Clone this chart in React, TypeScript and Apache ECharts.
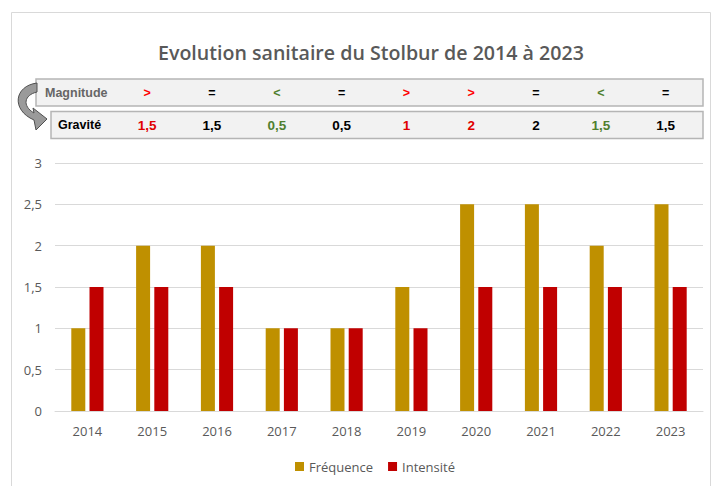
import React, { useEffect, useRef } from "react";
import * as echarts from "echarts";

const years = ["2014", "2015", "2016", "2017", "2018", "2019", "2020", "2021", "2022", "2023"];
const frequence = [1, 2, 2, 1, 1, 1.5, 2.5, 2.5, 2, 2.5];
const intensite = [1.5, 1.5, 1.5, 1, 1, 1, 1.5, 1.5, 1.5, 1.5];
const magnitudeSymbols = [">", "=", "<", "=", ">", ">", "=", "<", "="];
const graviteValues = ["1,5", "1,5", "0,5", "0,5", "1", "2", "2", "1,5", "1,5"];
const trends = ["up", "same", "down", "same", "up", "up", "same", "down", "same"];
const tableYears = years.slice(1);

const trendColor: Record<string, string> = { up: "#ff0000", same: "#000000", down: "#4f7f2f" };

const ARROW_D =
  "M 37 83 C 14 86, 11 110, 34 120 L 36 130 L 47 119 L 33 108 L 34 113 C 22 106, 24 95, 37 92 Z";
try {
  echarts.graphic.registerShape("curvedArrow", echarts.graphic.extendPath(ARROW_D, {}) as any);
} catch (e) {}

const axisFont = "'Open Sans', sans-serif";
const tableFont = "'Liberation Sans', Arial, sans-serif";
const tableNumFont = "'Liberation Sans Narrow', 'Liberation Sans', Arial, sans-serif";

export default function App() {
  const ref = useRef<HTMLDivElement>(null);
  useEffect(() => {
    if (!ref.current) return;
    const chart = echarts.init(ref.current, undefined, { renderer: "svg" });
    chart.setOption({
      animation: false,
      backgroundColor: "#ffffff",
      title: {
        text: "Evolution sanitaire du Stolbur de 2014 à 2023",
        left: 153,
        top: 37,
        textStyle: { fontFamily: axisFont, fontSize: 19.6, fontWeight: 600, color: "#595959" },
      },
      legend: {
        bottom: 8,
        left: 290,
        itemWidth: 9,
        itemHeight: 9,
        itemGap: 15,
        icon: "rect",
        textStyle: { fontFamily: axisFont, fontSize: 13, color: "#595959" },
        data: ["Fréquence", "Intensité"],
      },
      grid: { left: 55, right: 17, top: 163, bottom: 75 },
      xAxis: {
        type: "category",
        data: years,
        axisLine: { lineStyle: { color: "#d9d9d9" } },
        axisTick: { show: false },
        axisLabel: { fontFamily: axisFont, fontSize: 13, color: "#595959", margin: 13 },
      },
      yAxis: {
        type: "value",
        min: 0,
        max: 3,
        interval: 0.5,
        axisLine: { show: false },
        axisTick: { show: false },
        splitLine: { lineStyle: { color: "#d9d9d9" } },
        axisLabel: {
          fontFamily: axisFont,
          fontSize: 13,
          color: "#595959",
          margin: 13,
          formatter: (v: number) => String(v).replace(".", ","),
        },
      },
      series: [
        {
          name: "Fréquence",
          type: "bar",
          data: frequence,
          barWidth: 14,
          barGap: "30%",
          itemStyle: { color: "#bf9000" },
        },
        {
          name: "Intensité",
          type: "bar",
          data: intensite,
          barWidth: 14,
          itemStyle: { color: "#c00000" },
        },
      ],
    });

    const xs = tableYears.map((y) => (chart.convertToPixel({ xAxisIndex: 0 }, y) as number) - 5);
    const magY = 92.5;
    const gravY = 125;
    const graphic: any[] = [
      {
        type: "rect",
        shape: { x: 11.5, y: 12.5, width: 699, height: 520 },
        style: { fill: "none", stroke: "#d9d9d9", lineWidth: 1 },
        z: 0,
      },
      {
        type: "rect",
        shape: { x: 36, y: 79, width: 667, height: 27 },
        style: { fill: "#f2f2f2", stroke: "#b5b5b5", lineWidth: 1.5 },
        z: 10,
      },
      {
        type: "rect",
        shape: { x: 51, y: 111.5, width: 652, height: 27 },
        style: { fill: "#f2f2f2", stroke: "#b5b5b5", lineWidth: 1.5 },
        z: 10,
      },
      {
        type: "curvedArrow",
        x: 0,
        y: 0,
        style: { fill: "#9a9a9a", stroke: "#505050", lineWidth: 1 },
        z: 12,
      },
      {
        type: "text",
        x: 45,
        y: magY,
        style: {
          text: "Magnitude",
          fontFamily: tableFont,
          fontSize: 12.5,
          fontWeight: "bold",
          fill: "#666666",
          verticalAlign: "middle",
          align: "left",
        },
        z: 20,
      },
      {
        type: "text",
        x: 58,
        y: gravY,
        style: {
          text: "Gravité",
          fontFamily: tableFont,
          fontSize: 12.5,
          fontWeight: "bold",
          fill: "#000000",
          verticalAlign: "middle",
          align: "left",
        },
        z: 20,
      },
    ];
    xs.forEach((x, i) => {
      const color = trendColor[trends[i]];
      graphic.push({
        type: "text",
        x,
        y: magY,
        style: {
          text: magnitudeSymbols[i],
          fontFamily: tableFont,
          fontSize: 12.5,
          fontWeight: "bold",
          fill: color,
          align: "center",
          verticalAlign: "middle",
        },
        z: 20,
      });
      graphic.push({
        type: "text",
        x,
        y: gravY,
        style: {
          text: graviteValues[i],
          fontFamily: tableNumFont,
          fontSize: 13.5,
          fontWeight: "bold",
          fill: trends[i] === "up" ? "#e00000" : color,
          align: "center",
          verticalAlign: "middle",
        },
        z: 20,
      });
    });
    chart.setOption({ graphic });

    return () => chart.dispose();
  }, []);
  return (
    <div
      ref={ref}
      style={{ position: "fixed", left: 0, top: 0, width: 720, height: 486 }}
    />
  );
}
